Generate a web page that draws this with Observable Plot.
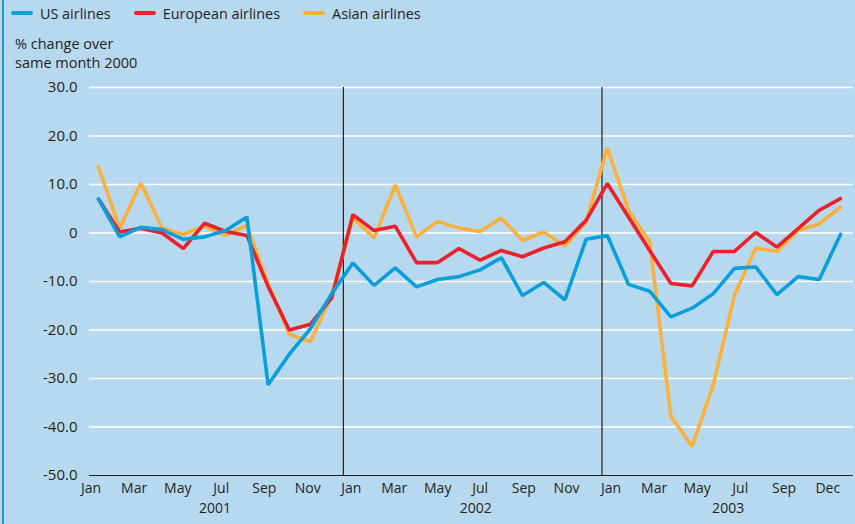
<!DOCTYPE html>
<html>
<head>
<meta charset="utf-8">
<script src="https://cdn.jsdelivr.net/npm/d3@7"></script>
<script src="https://cdn.jsdelivr.net/npm/@observablehq/plot@0.6"></script>
<style>
  html, body { margin: 0; padding: 0; background: #b7d9f0; }
  #wrap { position: relative; width: 855px; height: 524px; overflow: hidden; background: #b7d9f0;
          font-family: "Open Sans", "Noto Sans", sans-serif; color: #231f20; }
  #edge { position: absolute; left: 2px; top: 0; width: 2px; height: 524px; background: #1e9cd8; }
  #legend { position: absolute; top: 3px; left: 11px; height: 20px; display: flex; align-items: center; font-size: 14.4px; }
  .item { display: flex; align-items: center; margin-right: 23px; }
  .sw { width: 22px; height: 4px; border-radius: 2px; margin-right: 7px; }
  #ytitle { position: absolute; left: 15px; top: 35px; font-size: 14.5px; line-height: 18.5px; }
  #chart { position: absolute; left: 0; top: 72px; }
</style>
</head>
<body>
<div id="wrap">
  <div id="edge"></div>
  <div id="legend"></div>
  <div id="ytitle">% change over<br>same month 2000</div>
  <div id="chart"></div>
</div>
<script>
// Series names and colours
const seriesNames = ["US airlines", "European airlines", "Asian airlines"];
const seriesColors = ["#0a9fdb", "#e8212b", "#fbb03b"];

// Month index 0 = Jan 2001 ... 35 = Dec 2003 ; % change over same month 2000
const usAirlines = [7.0, -0.8, 1.2, 0.7, -1.3, -0.8, 0.5, 3.3, -31.3, -25.0, -19.7, -12.5,
                    -6.2, -10.8, -7.2, -11.1, -9.6, -9.0, -7.6, -5.1, -12.9, -10.2, -13.8, -1.3,
                    -0.5, -10.6, -12.0, -17.3, -15.5, -12.5, -7.3, -7.0, -12.7, -9.0, -9.6, -0.3];
const europeanAirlines = [7.0, 0.2, 1.0, 0.0, -3.2, 2.0, 0.3, -0.5, -11.0, -20.0, -18.8, -13.4,
                          3.8, 0.5, 1.4, -6.1, -6.1, -3.2, -5.6, -3.6, -4.9, -3.1, -1.8, 2.6,
                          10.2, 3.3, -3.6, -10.4, -10.9, -3.8, -3.8, 0.1, -2.9, 0.9, 4.7, 7.1];
const asianAirlines = [13.6, 1.0, 10.3, 1.0, -0.3, 1.4, -0.5, 1.6, -10.5, -20.9, -22.4, -12.8,
                       3.1, -1.0, 9.9, -0.8, 2.4, 1.0, 0.3, 3.1, -1.5, 0.2, -2.7, 2.3,
                       17.5, 4.7, -1.8, -37.8, -44.0, -31.3, -12.8, -3.1, -3.8, 0.5, 1.9, 5.3];

// Axis ticks (x tick label positions in month-index units, as placed in the original)
const yTicks = [30, 20, 10, 0, -10, -20, -30, -40, -50];
const monthTickPos = [-0.35, 1.68, 3.74, 5.79, 7.82, 9.87, 11.92, 13.95, 16.0, 18.0, 20.06, 22.08,
                      24.18, 26.21, 28.24, 30.27, 32.34, 34.4];
const monthTickLabels = ["Jan", "Mar", "May", "Jul", "Sep", "Nov", "Jan", "Mar", "May", "Jul", "Sep", "Nov",
                         "Jan", "Mar", "May", "Jul", "Sep", "Dec"];
const years = ["2001", "2002", "2003"];
const yearLabelPos = [5.5, 17.8, 29.7];
const yearBreaks = [11.55, 23.75];

// Legend
const legend = document.getElementById("legend");
seriesNames.forEach((n, k) => {
  const it = document.createElement("div");
  it.className = "item";
  it.innerHTML = `<span class="sw" style="background:${seriesColors[k]}"></span><span>${n}</span>`;
  legend.appendChild(it);
});

const allSeries = [usAirlines, europeanAirlines, asianAirlines];
const tidy = (k) => allSeries[k].map((v, i) => ({i, v, s: seriesNames[k]}));
const tickLabelOf = new Map(monthTickPos.map((t, k) => [t, monthTickLabels[k]]));

const chart = Plot.plot({
  width: 855,
  height: 452,
  marginTop: 15,
  marginLeft: 89,
  marginRight: 2,
  marginBottom: 49,
  insetLeft: 9,
  insetRight: 13,
  style: {background: "transparent", fontFamily: "'Open Sans', 'Noto Sans', sans-serif", fontSize: "14px", color: "#231f20", overflow: "visible"},
  x: {domain: [0, 35], axis: null},
  y: {domain: [-50, 30], axis: null},
  marks: [
    Plot.ruleY(yTicks.filter(d => d > -50), {stroke: "white", strokeWidth: 1.5}),
    Plot.ruleY([-50], {stroke: "#231f20", strokeWidth: 1.2}),
    Plot.ruleX(yearBreaks, {y1: 30, y2: -50, stroke: "#231f20", strokeWidth: 1.2}),
    Plot.axisY({ticks: yTicks, tickSize: 0, tickPadding: 12, label: null,
                tickFormat: d => d === 0 ? "0" : d.toFixed(1), fontSize: 15}),
    Plot.axisX({ticks: monthTickPos, tickSize: 0, tickPadding: 8, label: null,
                tickFormat: d => tickLabelOf.get(d), fontSize: 14}),
    Plot.text(years, {x: (d, k) => yearLabelPos[k], frameAnchor: "bottom", dy: 37, fontSize: 14, fill: "#231f20"}),
    Plot.line(tidy(2), {x: "i", y: "v", stroke: seriesColors[2], strokeWidth: 3.6, strokeLinejoin: "miter"}),
    Plot.line(tidy(1), {x: "i", y: "v", stroke: seriesColors[1], strokeWidth: 3.6, strokeLinejoin: "miter"}),
    Plot.line(tidy(0), {x: "i", y: "v", stroke: seriesColors[0], strokeWidth: 3.6, strokeLinejoin: "miter"})
  ]
});
document.getElementById("chart").appendChild(chart);
</script>
</body>
</html>
